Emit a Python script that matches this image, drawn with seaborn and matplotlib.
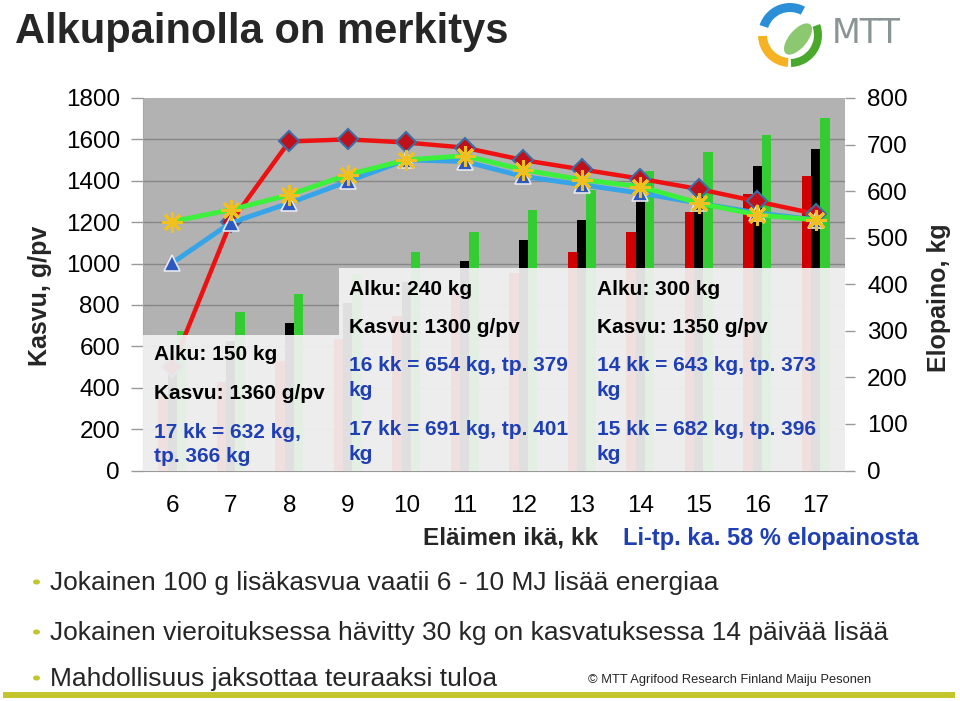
import numpy as np
import pandas as pd
import matplotlib
matplotlib.use("Agg")
import matplotlib.pyplot as plt
from matplotlib.patches import Rectangle, Wedge, Ellipse, Circle
from matplotlib.ticker import FixedLocator
import seaborn as sns

# ---------------- data ----------------
MONTHS = ["6", "7", "8", "9", "10", "11", "12", "13", "14", "15", "16", "17"]

# daily gain, g/pv (left axis)
GAIN_150 = [500, 1200, 1590, 1600, 1585, 1560, 1500, 1455, 1410, 1360, 1300, 1240]
GAIN_240 = [1003, 1197, 1292, 1397, 1501, 1493, 1421, 1381, 1340, 1292, 1245, 1211]
GAIN_300 = [1203, 1260, 1332, 1429, 1501, 1521, 1453, 1405, 1372, 1292, 1235, 1211]

# live weight, kg (right axis)
WEIGHT_150 = [160, 190, 235, 283, 331, 378, 424, 470, 512, 556, 594, 633]
WEIGHT_240 = [240, 278, 317, 360, 405, 451, 494, 537, 578, 617, 654, 691]
WEIGHT_300 = [300, 340, 380, 422, 469, 513, 560, 603, 644, 685, 721, 758]

GROUPS = ["Alku 150 kg", "Alku 240 kg", "Alku 300 kg"]
BAR_COLORS = ["#d00000", "#000000", "#33cc33"]

LEFT_TICKS = list(range(0, 1801, 200))
RIGHT_TICKS = list(range(0, 801, 100))

TITLE = "Alkupainolla on merkitys"
XLABEL = "Eläimen ikä, kk"
XNOTE = "Li-tp. ka. 58 % elopainosta"
YLABEL_L = "Kasvu, g/pv"
YLABEL_R = "Elopaino, kg"
BOX1 = [("Alku: 150 kg", "k"), ("Kasvu: 1360 g/pv", "k"),
        ("17 kk = 632 kg,", "b"), ("tp. 366 kg", "b")]
BOX2 = [("Alku: 240 kg", "k"), ("Kasvu: 1300 g/pv", "k"),
        ("16 kk = 654 kg, tp. 379", "b"), ("kg", "b"),
        ("17 kk = 691 kg, tp. 401", "b"), ("kg", "b")]
BOX3 = [("Alku: 300 kg", "k"), ("Kasvu: 1350 g/pv", "k"),
        ("14 kk = 643 kg, tp. 373", "b"), ("kg", "b"),
        ("15 kk = 682 kg, tp. 396", "b"), ("kg", "b")]
BULLETS = ["Jokainen 100 g lisäkasvua vaatii 6 - 10 MJ lisää energiaa",
           "Jokainen vieroituksessa hävitty 30 kg on kasvatuksessa 14 päivää lisää",
           "Mahdollisuus jaksottaa teuraaksi tuloa"]
COPYRIGHT = "© MTT Agrifood Research Finland Maiju Pesonen"

# ---------------- style ----------------
sns.set_style("white")
plt.rcParams["font.family"] = ["Liberation Sans", "DejaVu Sans"]

W, H = 960, 701
fig = plt.figure(figsize=(W / 100, H / 100), dpi=100)
fig.patch.set_facecolor("white")


def fx(x):
    return x / W


def fy(y):
    return 1 - y / H


def ftext(x, y, s, **kw):
    return fig.text(fx(x), fy(y), s, **kw)


BLUE_TXT = "#1f3fb4"
GRAY_TICK = "#999999"

L, R, T, B = 143, 845, 98, 470.5
ax_b = fig.add_axes([fx(L), fy(B), (R - L) / W, (B - T) / H])
ax_b.set_facecolor("#b2b2b2")

# bars on the right (kg) axis
df = pd.DataFrame({
    "month": MONTHS * 3,
    "group": [GROUPS[0]] * len(MONTHS) + [GROUPS[1]] * len(MONTHS) + [GROUPS[2]] * len(MONTHS),
    "kg": WEIGHT_150 + WEIGHT_240 + WEIGHT_300,
})
sns.barplot(data=df, x="month", y="kg", hue="group", order=MONTHS,
            hue_order=GROUPS, palette=BAR_COLORS, width=0.48, saturation=1,
            errorbar=None, legend=False, edgecolor="none", linewidth=0,
            ax=ax_b, zorder=3)

ax_l = ax_b.twinx()
ax_b.yaxis.tick_right()
ax_b.yaxis.set_label_position("right")
ax_l.yaxis.tick_left()
ax_l.yaxis.set_label_position("left")

pos = np.arange(len(MONTHS))
sns.lineplot(x=pos, y=GAIN_150, ax=ax_l, color="#ee1111", lw=3.2,
             marker="D", markersize=10, markerfacecolor="#c0101a",
             markeredgecolor="#3a6ea5", markeredgewidth=1.5, zorder=4)
sns.lineplot(x=pos, y=GAIN_240, ax=ax_l, color="#35a4e8", lw=3.5,
             marker="^", markersize=12, markerfacecolor="#2c58c0",
             markeredgecolor="#e8e8f0", markeredgewidth=1.2, zorder=5)
sns.lineplot(x=pos, y=GAIN_300, ax=ax_l, color="#3cf03c", lw=3.5,
             marker=(8, 2, 0), markersize=15, markerfacecolor="#f0c020",
             markeredgecolor="#f0c020", markeredgewidth=2.2, zorder=6)

# axes
ax_b.set_xlim(-0.5, len(MONTHS) - 0.5)
ax_b.set_ylim(0, 800)
ax_l.set_ylim(0, 1800)
ax_b.set_yticks(RIGHT_TICKS)
ax_l.set_yticks(LEFT_TICKS)
ax_b.yaxis.set_minor_locator(FixedLocator(np.linspace(0, 800, len(LEFT_TICKS))))
ax_b.grid(False)
ax_l.grid(False)
ax_b.grid(which="minor", axis="y", color="#878787", lw=1.0, zorder=1)
ax_b.set_axisbelow(True)
ax_b.set_xlabel("")
ax_b.set_ylabel("")
ax_l.set_xlabel("")
ax_l.set_ylabel("")

ax_b.tick_params(axis="x", length=0, pad=18, labelsize=17.5, colors="black")
ax_b.tick_params(axis="y", which="major", right=True, left=False, length=7,
                 color=GRAY_TICK, width=1, pad=9, labelsize=17.5, labelcolor="black")
ax_b.tick_params(axis="y", which="minor", length=0)
ax_l.tick_params(axis="y", left=True, right=False, length=9, color=GRAY_TICK,
                 width=1, pad=7.5, labelsize=17.5, labelcolor="black")

for sp in ["top", "right"]:
    ax_b.spines[sp].set_visible(False)
ax_b.spines["left"].set_color("#a8a8a8")
ax_b.spines["bottom"].set_color("#999999")
for sp in ax_l.spines.values():
    sp.set_visible(False)

# translucent info boxes
bx1 = (339 - L) / (R - L)
ax_l.add_patch(Rectangle((0, 0), bx1, (B - 335) / (B - T), transform=ax_l.transAxes,
                         facecolor="#f3f3f3", alpha=0.92, edgecolor="none", zorder=20))
ax_l.add_patch(Rectangle((bx1, 0), 1 - bx1, (B - 268) / (B - T), transform=ax_l.transAxes,
                         facecolor="#f3f3f3", alpha=0.92, edgecolor="none", zorder=20))


def box_text(x, baselines, lines):
    for (s, c), yb in zip(lines, baselines):
        ftext(x, yb, s, fontsize=15, fontweight="bold", va="baseline", ha="left",
              color=(BLUE_TXT if c == "b" else "black"), zorder=30)


box_text(154, [360, 399, 438, 462], BOX1)
box_text(349, [295, 333, 371, 396, 435, 460], BOX2)
box_text(597, [295, 333, 371, 396, 435, 460], BOX3)

# axis titles
ftext(40, 296, YLABEL_L, rotation=90, fontsize=18, fontweight="bold",
      ha="center", va="center")
ftext(939, 298, YLABEL_R, rotation=90, fontsize=18, fontweight="bold",
      ha="center", va="center")
ftext(423, 545, XLABEL, fontsize=17.5, fontweight="bold", va="baseline")
ftext(623, 545, XNOTE, fontsize=17, fontweight="bold", va="baseline", color=BLUE_TXT)

# title
ftext(15, 43, TITLE, fontsize=30, fontweight="bold", va="baseline")

# bullets
LIME = "#c2c62c"
for s, yb in zip(BULLETS, [590, 640, 686]):
    fig.patches.append(Circle((fx(36.5), fy(yb - 8)), 3.5 / W, transform=fig.transFigure,
                              facecolor=LIME, edgecolor="none"))
    ftext(50, yb, s, fontsize=19, va="baseline")
ftext(588, 683, COPYRIGHT, fontsize=9.3, va="baseline")
fig.patches.append(Rectangle((fx(3), fy(698)), (955 - 3) / W, 6 / H,
                             transform=fig.transFigure, facecolor=LIME, edgecolor="none"))

# MTT logo
lax = fig.add_axes([fx(755), fy(70), 70 / W, 70 / H])
lax.set_xlim(-35, 35)
lax.set_ylim(-35, 35)
lax.set_aspect("equal")
lax.axis("off")
lax.add_patch(Wedge((0, 0), 32, 62, 162, width=9, facecolor="#2a8fd6", edgecolor="none"))
lax.add_patch(Wedge((0, 0), 32, 182, 266, width=9, facecolor="#f5b324", edgecolor="none"))
lax.add_patch(Wedge((0, 0), 32, 272, 20, width=8, facecolor="#4aa82c", edgecolor="none"))
lax.add_patch(Ellipse((8, -4), 38, 18, angle=50, facecolor="#8cc870", edgecolor="none"))
ftext(832, 43, "MTT", fontsize=24, color="#8a9494", va="baseline",
      family=["DejaVu Sans"])

fig.savefig("out.png", dpi=100)
